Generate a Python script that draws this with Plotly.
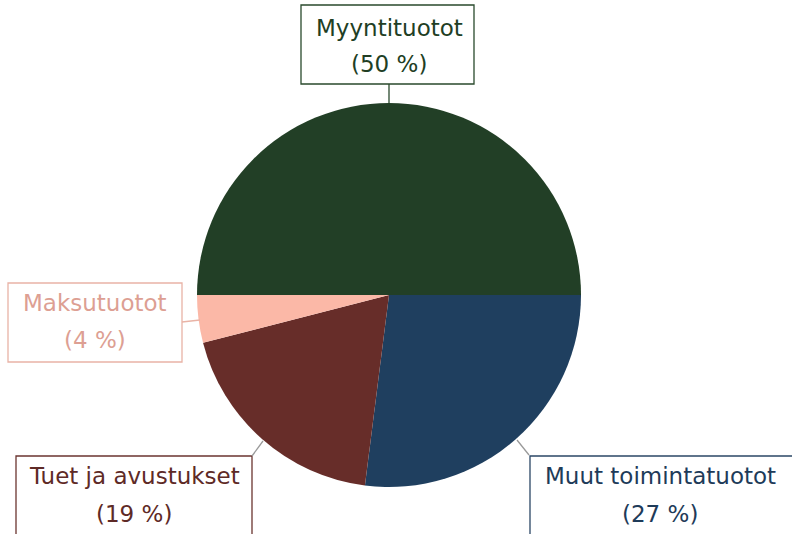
import plotly.graph_objects as go

labels = ["Myyntituotot", "Muut toimintatuotot", "Tuet ja avustukset", "Maksutuotot"]
values = [50, 27, 19, 4]
slice_colors = ["#223f26", "#1f3f5f", "#672d29", "#fbb8a7"]
text_colors = ["#213e24", "#1e3b59", "#5e2a26", "#dd9f93"]
border_colors = ["#2a4a2d", "#2b4766", "#6b3530", "#e9b3a6"]

W, H = 792, 534
cx, cy, r = 389, 295, 192

def px(x):
    return x / W

def py(y):
    return 1 - y / H

fig = go.Figure(go.Pie(
    labels=labels,
    values=values,
    sort=False,
    direction="clockwise",
    rotation=-90,
    marker=dict(colors=slice_colors, line=dict(width=0)),
    textinfo="none",
    hoverinfo="label+percent",
    domain=dict(x=[px(cx - r), px(cx + r)], y=[py(cy + r), py(cy - r)]),
    showlegend=False,
))

# label box layouts: (box x0, y0, x1, y1, text center x, line1 y, line2 y, leader line)
layouts = [
    (301, 5, 474, 84, 389, 28, 64, (389, 84, 389, 103)),
    (530, 456, 815, 560, 660, 476, 514, (529, 455, 517, 440)),
    (16, 456, 252, 560, 134, 476, 514, (252, 456, 263, 441)),
    (8, 283, 182, 362, 95, 303, 340, (182, 322, 200, 320)),
]

shapes = []
annotations = []
font_family = "'DejaVu Sans', sans-serif"
for i, (lab, val) in enumerate(zip(labels, values)):
    x0, y0, x1, y1, tx, ty1, ty2, (lx0, ly0, lx1, ly1) = layouts[i]
    shapes.append(dict(type="rect", xref="paper", yref="paper",
                       x0=px(x0), x1=px(x1), y0=py(y1), y1=py(y0),
                       line=dict(color=border_colors[i], width=1.3),
                       fillcolor="white", layer="above"))
    shapes.append(dict(type="line", xref="paper", yref="paper",
                       x0=px(lx0), y0=py(ly0), x1=px(lx1), y1=py(ly1),
                       line=dict(color="#999999" if i in (1, 2) else border_colors[i], width=1.3),
                       layer="above"))
    for t, yy in ((lab, ty1), (f"({val}\u00a0%)", ty2)):
        annotations.append(dict(text=t, xref="paper", yref="paper",
                                x=px(tx), y=py(yy), xanchor="center", yanchor="middle",
                                showarrow=False,
                                font=dict(family=font_family, size=23, color=text_colors[i])))

fig.update_layout(
    width=W, height=H,
    margin=dict(l=0, r=0, t=0, b=0),
    paper_bgcolor="white",
    plot_bgcolor="white",
    shapes=shapes,
    annotations=annotations,
)

fig.write_html("out.html", config={"displayModeBar": False},
               post_script="document.body.style.margin='0';")
